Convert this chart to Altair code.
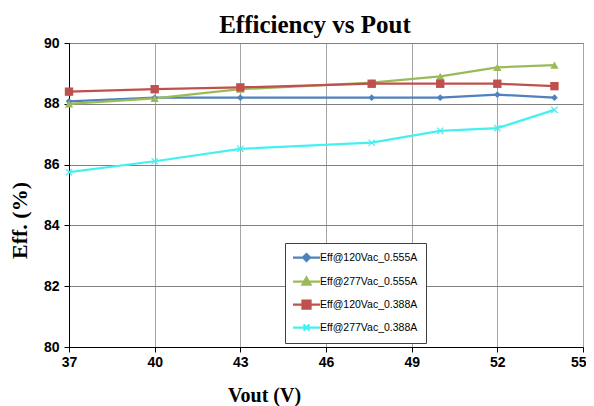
import altair as alt
import pandas as pd

# ---- data ----
vout = [37, 40, 43, 47.6, 50, 52, 54]
series_names = ["Eff@120Vac_0.555A", "Eff@277Vac_0.555A", "Eff@120Vac_0.388A", "Eff@277Vac_0.388A"]
eff_120_0555 = [88.08, 88.2, 88.2, 88.2, 88.2, 88.3, 88.2]
eff_277_0555 = [88.0, 88.18, 88.48, 88.7, 88.9, 89.2, 89.27]
eff_120_0388 = [88.4, 88.48, 88.54, 88.66, 88.66, 88.66, 88.58]
eff_277_0388 = [85.75, 86.11, 86.52, 86.72, 87.11, 87.2, 87.8]
x_ticks = [37, 40, 43, 46, 49, 52, 55]
y_ticks = [80, 82, 84, 86, 88, 90]

colors = ["#4F81BD", "#9BBB59", "#C0504D", "#45F0F0"]
widths = [2.25, 2.25, 2.25, 1.2]
shapes = ["diamond", "triangle-up", "square", "M-1,-1L1,1M-1,1L1,-1"]
filled = [True, True, True, False]
sizes = [45, 70, 70, 40]
legend_paths = [
    "M-2.7,0L2.7,0M0,-0.7L0.7,0L0,0.7L-0.7,0Z",
    "M-2.7,0L2.7,0M0,-0.8L0.8,0.6L-0.8,0.6Z",
    "M-2.7,0L2.7,0M-0.8,-0.8L0.8,-0.8L0.8,0.8L-0.8,0.8Z",
    "M-2.7,0L2.7,0M-0.6,-0.6L0.6,0.6M-0.6,0.6L0.6,-0.6",
]

rows = []
for name, vals in zip(series_names, [eff_120_0555, eff_277_0555, eff_120_0388, eff_277_0388]):
    for xv, yv in zip(vout, vals):
        rows.append({"series": name, "vout": xv, "eff": yv})
df = pd.DataFrame(rows)

x_enc = alt.X("vout:Q", scale=alt.Scale(domain=[37, 55], nice=False, zero=False),
              axis=alt.Axis(values=x_ticks, format="d", title="Vout (V)",
                            labelFont="Liberation Sans", labelFontWeight="bold", labelFontSize=14,
                            labelColor="black", labelPadding=3, labelFlush=False,
                            labelAlign=alt.ExprRef("datum.value == 55 ? 'right' : 'center'"),
                            labelOffset=alt.ExprRef("datum.value == 55 ? 3 : 0"),
                            domainColor="black", tickColor="black", tickSize=5,
                            gridColor="#a6a6a6", gridWidth=1,
                            titleFont="Liberation Serif", titleFontSize=20, titleFontWeight="bold",
                            titleColor="black", titlePadding=16, titleX=195))
y_enc = alt.Y("eff:Q", scale=alt.Scale(domain=[80, 90], nice=False, zero=False),
              axis=alt.Axis(values=y_ticks, format="d", title="Eff. (%)",
                            labelFont="Liberation Sans", labelFontWeight="bold", labelFontSize=14,
                            labelColor="black", labelPadding=5, labelFlush=False,
                            domainColor="black", tickColor="black", tickSize=5,
                            gridColor="#808080", gridWidth=1,
                            titleFont="Liberation Serif", titleFontSize=22, titleFontWeight="bold",
                            titleColor="black", titleX=-50, titleY=177, titleBaseline="middle"))

color_scale = alt.Scale(domain=series_names, range=colors)
leg = alt.Legend(title=None, orient="none", legendX=216, legendY=200,
                 fillColor="white", strokeColor="#404040", padding=8,
                 labelFont="Liberation Sans", labelFontSize=10.5, labelColor="black",
                 symbolSize=100, symbolStrokeWidth=2, rowPadding=7, labelOffset=7,
                 symbolOffset=7, symbolOpacity=1)

base = alt.Chart(df)

lines = base.mark_line().encode(
    x=x_enc, y=y_enc,
    stroke=alt.Stroke("series:N", scale=color_scale, legend=leg, sort=series_names),
    strokeWidth=alt.StrokeWidth("series:N", scale=alt.Scale(domain=series_names, range=widths), legend=None),
    detail="series:N",
)

point_layers = []
for i, name in enumerate(series_names):
    if filled[i]:
        mk = base.mark_point(shape=shapes[i], filled=True, color=colors[i], size=sizes[i], opacity=1)
    else:
        mk = base.mark_point(shape=shapes[i], filled=False, color=colors[i], size=sizes[i],
                             strokeWidth=1.2, opacity=1)
    point_layers.append(mk.encode(x="vout:Q", y="eff:Q").transform_filter(alt.datum.series == name))

legend_layer = base.mark_point(filled=True, opacity=1, strokeWidth=2).encode(
    x="vout:Q", y="eff:Q",
    shape=alt.Shape("series:N", scale=alt.Scale(domain=series_names, range=legend_paths), legend=leg, sort=series_names),
    stroke=alt.Stroke("series:N", scale=color_scale, legend=leg, sort=series_names),
    fill=alt.Fill("series:N", scale=color_scale, legend=leg, sort=series_names),
).transform_filter("false")

chart = alt.layer(lines, *point_layers, legend_layer).properties(
    width=514, height=304,
    title=alt.TitleParams("Efficiency vs Pout", font="Liberation Serif", fontSize=25,
                          fontWeight="bold", color="black", anchor="middle", dx=-11, offset=-2),
    autosize=alt.AutoSizeParams(type="none"),
    padding={"left": 61, "top": 35, "right": 3, "bottom": 59},
    background="white",
).configure_view(stroke="#8c8c8c", strokeWidth=1)

chart.save("out.html", embed_options={"renderer": "svg", "actions": False})
